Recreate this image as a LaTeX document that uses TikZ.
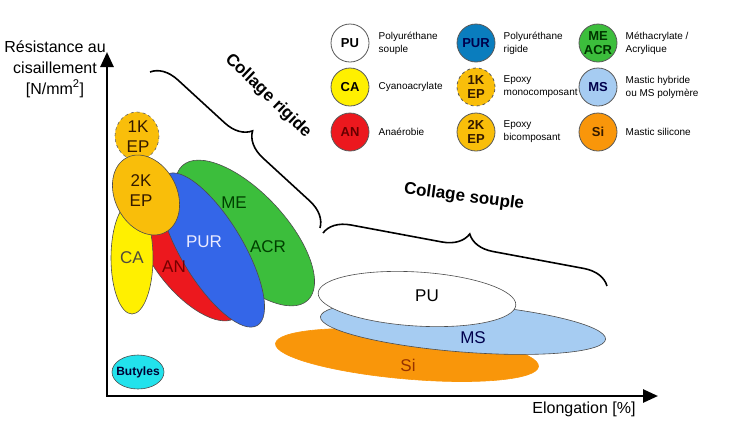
\documentclass[tikz,border=0pt]{standalone}
\usepackage{fontspec}
\setmainfont{Liberation Sans}
\usetikzlibrary{arrows.meta,positioning,decorations.pathreplacing}

\definecolor{caYel}{RGB}{255,240,0}
\definecolor{anRed}{RGB}{236,24,30}
\definecolor{purBlue}{RGB}{52,102,232}
\definecolor{purLeg}{RGB}{10,125,190}
\definecolor{meGreen}{RGB}{60,190,60}
\definecolor{epGold}{RGB}{249,190,10}
\definecolor{msBlue}{RGB}{166,204,242}
\definecolor{siOrange}{RGB}{249,150,10}
\definecolor{siText}{RGB}{150,50,0}
\definecolor{butCyan}{RGB}{34,226,236}

\begin{document}
\begin{tikzpicture}[x=1pt,y=-1pt,node distance=9pt,semithick]
  \tikzstyle{axis}=[line width=2.6pt,{Triangle[length=15pt,width=13pt]}-{Triangle[length=15pt,width=13pt]}]
  \tikzstyle{blob}=[draw=black!70,line width=0.6pt]
  \tikzstyle{lab}=[font=\fontsize{17}{20}\selectfont,align=center,inner sep=0pt]
  \tikzstyle{legcirc}=[circle,draw=black!65,line width=0.8pt,minimum size=38pt,inner sep=0pt,
    font=\bfseries\fontsize{13}{14}\selectfont,align=center]
  \tikzstyle{legtext}=[font=\fontsize{10}{13}\selectfont,align=left,inner sep=0pt,anchor=west]
  \tikzstyle{brace}=[line width=1.6pt,decorate,decoration={brace,amplitude=26pt}]
  \tikzstyle{title}=[font=\bfseries\fontsize{17}{20}\selectfont,inner sep=0pt]

  \useasboundingbox (0,0) rectangle (735,440);

  % axes
  \coordinate (O) at (107,396);
  \coordinate (ytip) at (107,52);
  \coordinate (xtip) at (658,396);
  \draw[axis] (ytip) -- (O) -- (xtip);
  \node[font=\fontsize{16}{21}\selectfont,align=center,inner sep=0pt] (ylab) at (55,69)
    {Résistance au\\cisaillement\\{}[N/mm\textsuperscript{2}]};
  \node[font=\fontsize{16}{20}\selectfont,inner sep=0pt] (xlab) at (584,409) {Elongation [\%]};

  % collage souple
  \filldraw[blob,fill=siOrange,draw=siOrange] [rotate around={-5:(407,355)}] (407,355) ellipse [x radius=132,y radius=24];
  \filldraw[blob,fill=msBlue] [rotate around={-4.5:(463,328)}] (463,328) ellipse [x radius=143,y radius=24];
  \filldraw[blob,fill=white] [rotate around={-3.5:(417,299)}] (417,299) ellipse [x radius=99,y radius=27];
  \node[lab] (PU) at (427,296) {PU};
  \node[lab,text=blue!30!black] (MS) at (473,338) {MS};
  \node[lab,text=siText] (Si) at (408,365) {Si};

  % collage rigide
  \filldraw[blob,fill=meGreen] [rotate around={-47:(245,233)}] (245,233) ellipse [x radius=92,y radius=41];
  \filldraw[blob,fill=anRed] [rotate around={-50:(190,262)}] (190,262) ellipse [x radius=72,y radius=32];
  \filldraw[blob,fill=purBlue] [rotate around={-59:(212,250)}] (212,250) ellipse [x radius=88,y radius=31];
  \filldraw[blob,fill=caYel] (132,258) ellipse [x radius=21,y radius=56];
  \filldraw[blob,fill=epGold,dashed,draw=black!60] (137,136) ellipse [x radius=22,y radius=24];
  \filldraw[blob,fill=epGold] [rotate around={27:(146,195)}] (146,195) ellipse [x radius=31,y radius=42];
  \node[lab,text=black!80!orange] (EP1) at (138,137) {1K\\EP};
  \node[lab,text=black!80!orange] (EP2) at (141,191) {2K\\EP};
  \node[lab,text=black!80!yellow] (CA) at (132,258) {CA};
  \node[lab,text=red!45!black] (AN) at (174,267) {AN};
  \node[lab,text=blue!8] (PUR) at (204,242) {PUR};
  \node[lab,text=green!25!black] (ME) at (234,203) {ME};
  \node[lab,text=green!25!black] (ACR) at (268,247) {ACR};

  \filldraw[blob,fill=butCyan] (138,372) ellipse [x radius=26,y radius=17];
  \node[font=\bfseries\fontsize{12}{14}\selectfont,text=black!80!blue,inner sep=0pt] (But) at (138,372) {Butyles};

  % braces
  \coordinate (rigA) at (150,72);
  \coordinate (rigB) at (320,228);
  \coordinate (soupA) at (323,233);
  \coordinate (soupB) at (607,286);
  \draw[brace] (rigA) -- (rigB);
  \draw[brace] (soupA) -- (soupB);
  \node[title,rotate=-44] (rig) at (268,96) {Collage rigide};
  \node[title,rotate=-7.5] (soup) at (464,197) {Collage souple};

  % legend
  \node[legcirc,fill=white] (lPU) at (350,43) {PU};
  \node[legcirc,fill=purLeg,text=blue!30!black] (lPUR) at (476,43) {PUR};
  \node[legcirc,fill=meGreen,text=green!20!black] (lME) at (598,43) {ME\\ACR};
  \node[legcirc,fill=caYel] (lCA) at (350,87) {CA};
  \node[legcirc,fill=epGold,dashed,text=black!80!orange] (lEP1) at (476,87) {1K\\EP};
  \node[legcirc,fill=msBlue,text=blue!30!black] (lMS) at (598,87) {MS};
  \node[legcirc,fill=anRed,text=red!40!black] (lAN) at (350,132) {AN};
  \node[legcirc,fill=epGold,text=black!80!orange] (lEP2) at (476,132) {2K\\EP};
  \node[legcirc,fill=siOrange,text=black!80!orange] (lSi) at (598,132) {Si};

  \node[legtext,right=9pt of lPU] (tPU) {Polyuréthane\\souple};
  \node[legtext,right=8pt of lPUR] (tPUR) {Polyuréthane\\rigide};
  \node[legtext,right=8pt of lME] (tME) {Méthacrylate /\\Acrylique};
  \node[legtext,right=9pt of lCA] (tCA) {Cyanoacrylate};
  \node[legtext,right=8pt of lEP1] (tEP1) {Epoxy\\monocomposant};
  \node[legtext,right=8pt of lMS] (tMS) {Mastic hybride\\ou MS polymère};
  \node[legtext,right=9pt of lAN] (tAN) {Anaérobie};
  \node[legtext,right=8pt of lEP2] (tEP2) {Epoxy\\bicomposant};
  \node[legtext,right=8pt of lSi] (tSi) {Mastic silicone};
\end{tikzpicture}
\end{document}
